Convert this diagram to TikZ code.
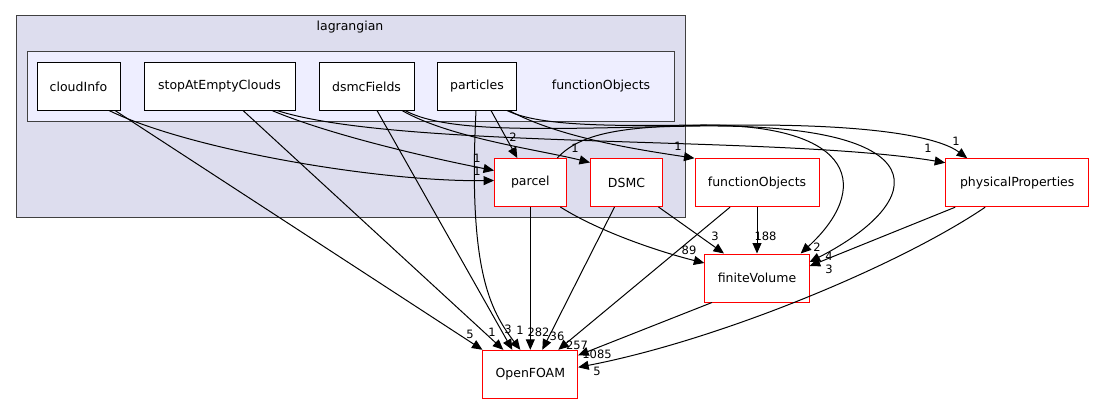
\documentclass[tikz,border=0pt]{standalone}
\usepackage{fontspec}
\setmainfont{DejaVu Sans}
\usetikzlibrary{arrows.meta, calc}
\definecolor{clouter}{HTML}{DDDDEE}
\definecolor{clinner}{HTML}{EEEEFF}
\definecolor{cframe}{HTML}{404040}
\definecolor{cred}{HTML}{FF0000}
\tikzset{
  every picture/.style={line width=1pt},
  cluster/.style={draw=cframe, fill=#1, inner sep=0pt},
  title/.style={font=\fontsize{12.5}{14}\selectfont, inner sep=0pt},
  subdir/.style={draw=black, fill=white, minimum height=47pt, inner sep=0pt, font=\fontsize{12.5}{14}\selectfont},
  extdir/.style={draw=cred, fill=white, minimum height=48pt, inner sep=0pt, font=\fontsize{12.5}{14}\selectfont},
  edge/.style={-{Triangle[length=10.5pt, width=9pt]}, draw=black},
  lbl/.style={font=\fontsize{11.5}{13}\selectfont, inner sep=0pt},
}

\begin{document}
\begin{tikzpicture}[x=1pt, y=-1pt]
  \useasboundingbox (0,0) rectangle (1094,404);
  % clusters
  \node[cluster=clouter, minimum width=669pt, minimum height=201pt] (lagrangian) at (350.5,116.5) {};
  \node[cluster=clinner, minimum width=647.5pt, minimum height=69pt] (fnDir) at (350.75,86.5) {};
  \node[title] (lagrangianTitle) at (350,27) {lagrangian};
  \node[title] (fnDirTitle) at (601,86) {functionObjects};

  % sub directories
  \foreach \n/\x/\w in {cloudInfo/78.5/83, stopAtEmptyClouds/219.5/151, dsmcFields/366.5/95, particles/477/79}
    \node[subdir, minimum width=\w pt] (\n) at (\x,86.5) {\n};
  % other directories
  \foreach \n/\x/\y/\w/\txt in {parcel/530.3/182.5/71.5/parcel, dsmc/626.5/182.5/72/DSMC,
      fnObjects/757/182.7/124/functionObjects, physProps/1017.2/182.7/143/physicalProperties,
      finiteVolume/757/278/104.3/finiteVolume, openFOAM/530.3/374.3/94.7/OpenFOAM}
    \node[extdir, minimum width=\w pt] (\n) at (\x,\y) {\txt};

  % straight dependencies: source/xshift/target/xshift/yshift/label/label position
  \foreach \a/\sa/\b/\sb/\tb/\t/\l [count=\k] in {
      cloudInfo.south/36.5/openFOAM.north west/0/0/5/{470,334},
      stopAtEmptyClouds.south/23.5/openFOAM.north/-27/0/1/{492,332},
      dsmcFields.south/10.5/openFOAM.north/-18/0/3/{508,329},
      particles.south/14/parcel.north/-13/0/2/{513,137},
      parcel.south/0/openFOAM.north/0/0/282/{538.5,332},
      dsmc.south/-12/openFOAM.north/12/0/36/{557,336},
      dsmc.south/32/finiteVolume.north/-33/0/3/{715,236},
      fnObjects.south/0/finiteVolume.north/0/0/188/{765.5,236},
      fnObjects.south/-27/openFOAM.north/28/0/257/{577,345},
      physProps.south/-62/finiteVolume.east/0/12/3/{829,269},
      finiteVolume.south/-45/openFOAM.east/0/19/1085/{597,354}}
    \draw[edge] ([xshift=\sa pt]\a) -- ([xshift=\sb pt, yshift=\tb pt]\b) node[lbl] (s\k) at (\l) {\t};

  % curved dependencies
  \draw[edge] ([xshift=30.5pt]cloudInfo.south) .. controls (190,150) and (380,182) .. ([yshift=2pt]parcel.west)
    node[lbl] (c1) at (477,171) {1};
  \draw[edge] ([xshift=52.5pt]stopAtEmptyClouds.south) .. controls (330,135) and (430,158) .. ([yshift=12pt]parcel.west)
    node[lbl] (c2) at (477,158) {1};
  \draw[edge] ([xshift=57.5pt]stopAtEmptyClouds.south) .. controls (400,150) and (780,135) .. ([yshift=20pt]physProps.west)
    node[lbl] (c3) at (928,148) {1};
  \draw[edge] ([xshift=35.5pt]dsmcFields.south) .. controls (450,138) and (540,150) .. ([yshift=-4.5pt]dsmc.north west)
    node[lbl] (c4) at (575,148) {1};
  \draw[edge] ([xshift=38.5pt]dsmcFields.south) .. controls (450,135) and (560,128) .. (700,126)
    .. controls (940,124) and (930,200) .. ([yshift=16pt]finiteVolume.east)
    node[lbl] (c5) at (829,256) {4};
  \draw[edge] ([xshift=30pt]particles.south) .. controls (540,127) and (620,126) .. (700,125)
    .. controls (860,124) and (870,190) .. ([xshift=-9pt]finiteVolume.north east)
    node[lbl] (c6) at (817,247) {2};
  \draw[edge] ([xshift=-1pt]particles.south) .. controls (468,270) and (490,310) .. ([xshift=-10pt]openFOAM.north)
    node[lbl] (c7) at (520,330) {1};
  \draw[edge] ([xshift=32pt]particles.south) .. controls (560,138) and (640,150) .. (fnObjects.north west)
    node[lbl] (c8) at (678,146) {1};
  \draw[edge] ([xshift=27pt]parcel.north) .. controls (585,128) and (640,125) .. (750,125)
    .. controls (880,125) and (940,138) .. ([xshift=22pt]physProps.north west)
    node[lbl] (c9) at (956,141) {1};
  \draw[edge] ([xshift=30pt]parcel.south) .. controls (600,232) and (660,252) .. ([yshift=15pt]finiteVolume.west)
    node[lbl] (c10) at (689,250) {89};
  \draw[edge] ([xshift=-32pt]physProps.south) .. controls (900,265) and (720,340) .. ([yshift=7pt]openFOAM.east)
    node[lbl] (c11) at (597,371) {5};
\end{tikzpicture}
\end{document}
